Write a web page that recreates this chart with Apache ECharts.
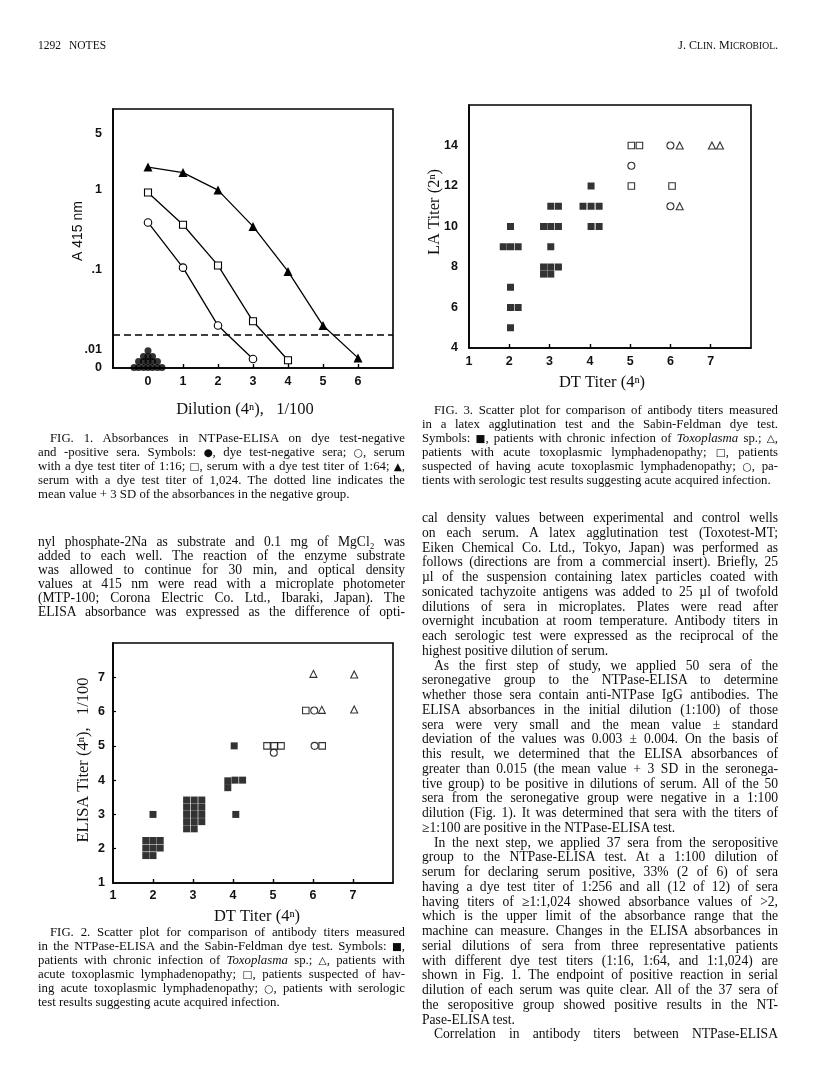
<!DOCTYPE html>
<html>
<head>
<meta charset="utf-8">
<script src="https://cdn.jsdelivr.net/npm/echarts@6/dist/echarts.min.js"></script>
<style>
html,body{margin:0;padding:0;background:#fff;}
#page{position:relative;width:816px;height:1087px;overflow:hidden;background:#fff;}
#chart{position:absolute;left:0;top:0;width:816px;height:1087px;}
.ln{position:absolute;white-space:nowrap;font-family:"Liberation Serif","Times New Roman",serif;color:#0d0d0d;}
.sym{font-family:"DejaVu Sans",sans-serif;font-size:0.82em;}
</style>
</head>
<body>
<div id="page"><div id="chart"></div></div>
<script>
// ---------------- FIG. 1 data (absorbance at 415 nm vs dilution 4^n) ----------------
const fig1Dilution = [0, 1, 2, 3, 4, 5, 6];
const fig1Titer1024 = [1.92, 1.64, 0.99, 0.348, 0.095, 0.020, 0.0055];   // filled triangles
const fig1Titer64   = [0.925, 0.365, 0.113, 0.0226, 0.0042];              // open squares
const fig1Titer16   = [0.39, 0.106, 0.020, 0.0049];                       // open circles
const fig1NegativeX = [-0.4, -0.27, -0.13, 0, 0.13, 0.27, 0.4, -0.27, -0.13, 0, 0.13, 0.27, -0.13, 0, 0.13, 0];
const fig1NegativeA = [0.0003, 0.0003, 0.0003, 0.0003, 0.0003, 0.0003, 0.0003, 0.0036, 0.0036, 0.0036, 0.0036, 0.0036, 0.0063, 0.0063, 0.0063, 0.0094];
const fig1Cutoff = 0.015;
const fig1YTickValues = [0, 0.01, 0.1, 1, 5];
const fig1YTickLabels = ['0', '.01', '.1', '1', '5'];
const fig1XTickValues = [0, 1, 2, 3, 4, 5, 6];

// ---------------- FIG. 3 data (LA titer 2^n vs DT titer 4^n) ----------------
const fig3ChronicX = [2.03, 1.85, 2.03, 2.22, 2.03, 2.03, 2.22, 2.03, 3.03, 3.22, 2.85, 3.03, 3.22, 3.03, 2.85, 3.03, 3.22, 2.85, 3.03, 4.03, 3.83, 4.03, 4.23, 4.03, 4.23];
const fig3ChronicY = [10, 9, 9, 9, 7, 6, 6, 5, 11, 11, 10, 10, 10, 9, 8, 8, 8, 7.65, 7.65, 12, 11, 11, 11, 10, 10];
const fig3SuspectedX = [5.03, 5.23, 5.03, 6.04];
const fig3SuspectedY = [14, 14, 12, 12];
const fig3SerologicX = [5.03, 6.0, 6.0];
const fig3SerologicY = [13, 14, 11];
const fig3AcuteX = [6.23, 6.23, 7.03, 7.23];
const fig3AcuteY = [14, 11, 14, 14];
const fig3XTickValues = [1, 2, 3, 4, 5, 6, 7];
const fig3YTickValues = [4, 6, 8, 10, 12, 14];

// ---------------- FIG. 2 data (ELISA titer 4^n vs DT titer 4^n) ----------------
const fig2ChronicX = [2.0, 1.82, 2.0, 2.18, 1.82, 2.0, 2.18, 1.82, 2.0,
  2.84, 3.03, 3.22, 2.84, 3.03, 3.22, 2.84, 3.03, 3.22, 2.84, 3.03, 3.22, 2.84, 3.03,
  4.03, 3.87, 3.87, 4.05, 4.24, 4.07];
const fig2ChronicY = [3.0, 2.24, 2.24, 2.24, 2.02, 2.02, 2.02, 1.8, 1.8,
  3.42, 3.42, 3.42, 3.21, 3.21, 3.21, 3.0, 3.0, 3.0, 2.79, 2.79, 2.79, 2.58, 2.58,
  5.0, 3.98, 3.78, 4.0, 4.0, 3.0];
const fig2SuspectedX = [4.85, 5.03, 5.2, 5.82, 6.23];
const fig2SuspectedY = [5.0, 5.0, 5.0, 6.03, 5.0];
const fig2SerologicX = [5.02, 6.03, 6.04];
const fig2SerologicY = [4.8, 6.03, 5.0];
const fig2AcuteX = [6.22, 6.01, 7.03, 7.03];
const fig2AcuteY = [6.05, 7.1, 7.08, 6.06];
const fig2XTickValues = [1, 2, 3, 4, 5, 6, 7];
const fig2YTickValues = [1, 2, 3, 4, 5, 6, 7];

// ---------------- page text ----------------
const fig1CaptionLines = [
  '^FIG. 1. Absorbances in NTPase-ELISA on dye test-negative',
  'and -positive sera. Symbols: <span class="sym">●</span>, dye test-negative sera; <span class="sym">○</span>, serum',
  'with a dye test titer of 1:16; <span class="sym">□</span>, serum with a dye test titer of 1:64; <span class="sym">▲</span>,',
  'serum with a dye test titer of 1,024. The dotted line indicates the',
  'mean value + 3 SD of the absorbances in the negative group.$'
];
const leftParagraphLines = [
  'nyl phosphate-2Na as substrate and 0.1 mg of MgCl₂ was',
  'added to each well. The reaction of the enzyme substrate',
  'was allowed to continue for 30 min, and optical density',
  'values at 415 nm were read with a microplate photometer',
  '(MTP-100; Corona Electric Co. Ltd., Ibaraki, Japan). The',
  'ELISA absorbance was expressed as the difference of opti-'
];
const fig2CaptionLines = [
  '^FIG. 2. Scatter plot for comparison of antibody titers measured',
  'in the NTPase-ELISA and the Sabin-Feldman dye test. Symbols: <span class="sym">■</span>,',
  'patients with chronic infection of <i>Toxoplasma</i> sp.; <span class="sym">△</span>, patients with',
  'acute toxoplasmic lymphadenopathy; <span class="sym">□</span>, patients suspected of hav-',
  'ing acute toxoplasmic lymphadenopathy; <span class="sym">○</span>, patients with serologic',
  'test results suggesting acute acquired infection.$'
];
const fig3CaptionLines = [
  '^FIG. 3. Scatter plot for comparison of antibody titers measured',
  'in a latex agglutination test and the Sabin-Feldman dye test.',
  'Symbols: <span class="sym">■</span>, patients with chronic infection of <i>Toxoplasma</i> sp.; <span class="sym">△</span>,',
  'patients with acute toxoplasmic lymphadenopathy; <span class="sym">□</span>, patients',
  'suspected of having acute toxoplasmic lymphadenopathy; <span class="sym">○</span>, pa-',
  'tients with serologic test results suggesting acute acquired infection.$'
];
const rightParagraphLines = [
  'cal density values between experimental and control wells',
  'on each serum. A latex agglutination test (Toxotest-MT;',
  'Eiken Chemical Co. Ltd., Tokyo, Japan) was performed as',
  'follows (directions are from a commercial insert). Briefly, 25',
  'µl of the suspension containing latex particles coated with',
  'sonicated tachyzoite antigens was added to 25 µl of twofold',
  'dilutions of sera in microplates. Plates were read after',
  'overnight incubation at room temperature. Antibody titers in',
  'each serologic test were expressed as the reciprocal of the',
  'highest positive dilution of serum.$',
  '^As the first step of study, we applied 50 sera of the',
  'seronegative group to the NTPase-ELISA to determine',
  'whether those sera contain anti-NTPase IgG antibodies. The',
  'ELISA absorbances in the initial dilution (1:100) of those',
  'sera were very small and the mean value ± standard',
  'deviation of the values was 0.003 ± 0.004. On the basis of',
  'this result, we determined that the ELISA absorbances of',
  'greater than 0.015 (the mean value + 3 SD in the seronega-',
  'tive group) to be positive in dilutions of serum. All of the 50',
  'sera from the seronegative group were negative in a 1:100',
  'dilution (Fig. 1). It was determined that sera with the titers of',
  '≥1:100 are positive in the NTPase-ELISA test.$',
  '^In the next step, we applied 37 sera from the seropositive',
  'group to the NTPase-ELISA test. At a 1:100 dilution of',
  'serum for declaring serum positive, 33% (2 of 6) of sera',
  'having a dye test titer of 1:256 and all (12 of 12) of sera',
  'having titers of ≥1:1,024 showed absorbance values of &gt;2,',
  'which is the upper limit of the absorbance range that the',
  'machine can measure. Changes in the ELISA absorbances in',
  'serial dilutions of sera from three representative patients',
  'with different dye test titers (1:16, 1:64, and 1:1,024) are',
  'shown in Fig. 1. The endpoint of positive reaction in serial',
  'dilution of each serum was quite clear. All of the 37 sera of',
  'the seropositive group showed positive results in the NT-',
  'Pase-ELISA test.$',
  '^Correlation in antibody titers between NTPase-ELISA'
];

// ---------------- text layout ----------------
const page = document.getElementById('page');
function placeBlock(lines, left, firstCenter, lh, width, size) {
  lines.forEach((raw, i) => {
    const indent = raw.startsWith('^');
    const last = raw.endsWith('$');
    const html = raw.replace(/^\^/, '').replace(/\$$/, '');
    const ind = indent ? 12 : 0;
    const d = document.createElement('div');
    d.className = 'ln';
    d.style.left = (left + ind) + 'px';
    d.style.top = (firstCenter + i * lh - 9) + 'px';
    d.style.fontSize = size + 'px';
    d.style.lineHeight = '18px';
    d.innerHTML = html;
    page.appendChild(d);
    const target = width - ind;
    const w = d.getBoundingClientRect().width;
    const plain = html.replace(/<[^>]+>/g, '');
    const n = (plain.match(/ /g) || []).length;
    if (!last && n > 0) {
      let ws = (target - w) / n;
      if (ws >= -1.2) { d.style.wordSpacing = ws + 'px'; }
      else {
        d.style.wordSpacing = '-1.2px';
        const w2 = d.getBoundingClientRect().width;
        d.style.transformOrigin = '0 0';
        d.style.transform = 'scaleX(' + (target / w2) + ')';
      }
    } else if (w > target) {
      d.style.transformOrigin = '0 0';
      d.style.transform = 'scaleX(' + (target / w) + ')';
    }
  });
}
function placeText(html, left, center, size, align) {
  const d = document.createElement('div');
  d.className = 'ln';
  d.style.top = (center - 9) + 'px';
  d.style.lineHeight = '18px';
  d.style.fontSize = size + 'px';
  d.innerHTML = html;
  page.appendChild(d);
  if (align === 'right') { d.style.left = (left - d.getBoundingClientRect().width) + 'px'; }
  else d.style.left = left + 'px';
}
placeText('1292', 38, 45, 11.5);
placeText('NOTES', 69, 45, 11.5);
placeText('J. C<span style="font-size:0.8em">LIN</span>. M<span style="font-size:0.8em">ICROBIOL</span>.', 778, 45, 12, 'right');

placeBlock(fig1CaptionLines, 38, 438, 14, 367, 12.8);
placeBlock(leftParagraphLines, 38, 542, 14, 367, 13.6);
placeBlock(fig2CaptionLines, 38, 932, 14, 367, 12.8);
placeBlock(fig3CaptionLines, 422, 410, 14, 356, 12.8);
placeBlock(rightParagraphLines, 422, 518, 14.75, 356, 13.6);

// ---------------- chart ----------------
const Y_BREAK = 0.01, BREAK_SPAN = 0.23;
function fig1Scale(a) { return a >= Y_BREAK ? Math.log10(a) : -2 - BREAK_SPAN * (1 - a / Y_BREAK); }
function fig1Label(v) {
  for (let i = 0; i < fig1YTickValues.length; i++) {
    if (Math.abs(fig1Scale(fig1YTickValues[i]) - v) < 1e-6) return fig1YTickLabels[i];
  }
  return '';
}
const pairs = (xs, ys) => xs.map((x, i) => [x, ys[i]]);

const tickFont = { color: '#111', fontFamily: '"Liberation Sans Narrow","Liberation Sans",Arial,sans-serif', fontWeight: 'bold', fontSize: 12.5 };
const axisLine = { show: true, onZero: false, lineStyle: { color: '#000', width: 1.6 } };
const serif = '"Liberation Serif","Times New Roman",serif';

function xAxisDef(gridIndex, min, max, labelVals, tickVals, margin) {
  return {
    gridIndex, type: 'value', min, max,
    axisLine, splitLine: { show: false },
    axisTick: { show: true, inside: true, length: 4, customValues: tickVals, lineStyle: { color: '#000', width: 1.4 } },
    axisLabel: Object.assign({ customValues: labelVals, margin, formatter: v => String(v) }, tickFont)
  };
}
function yAxisDef(gridIndex, min, max, labelVals, tickVals, margin, formatter) {
  return {
    gridIndex, type: 'value', min, max,
    axisLine, splitLine: { show: false },
    axisTick: tickVals ? { show: true, inside: true, length: 3, customValues: tickVals, lineStyle: { color: '#000', width: 1.2 } } : { show: false },
    axisLabel: Object.assign({ customValues: labelVals, margin, formatter: formatter || (v => String(v)) }, tickFont)
  };
}

const openStyle = { color: '#fff', borderColor: '#000', borderWidth: 1.1 };
const filledStyle = { color: '#000' };

const option = {
  animation: false,
  backgroundColor: 'transparent',
  grid: [
    { left: 113, top: 109, width: 280, height: 259, show: true, borderColor: '#000', borderWidth: 1.6, backgroundColor: 'transparent' },
    { left: 469, top: 105, width: 282, height: 243, show: true, borderColor: '#000', borderWidth: 1.6, backgroundColor: 'transparent' },
    { left: 113, top: 643, width: 280, height: 240, show: true, borderColor: '#000', borderWidth: 1.6, backgroundColor: 'transparent' }
  ],
  xAxis: [
    xAxisDef(0, -1, 7, fig1XTickValues, [1, 2, 3, 4, 5, 6], 7),
    xAxisDef(1, 1, 8, fig3XTickValues, [2, 3, 4, 5, 6, 7], 7),
    xAxisDef(2, 1, 8, fig2XTickValues, [2, 3, 4, 5, 6, 7], 6)
  ],
  yAxis: [
    yAxisDef(0, fig1Scale(0), 1.01, fig1YTickValues.map(fig1Scale), null, 11, fig1Label),
    yAxisDef(1, 4, 16, fig3YTickValues, null, 11),
    yAxisDef(2, 1, 8, fig2YTickValues, [2, 3, 4, 5, 6, 7], 8)
  ],
  graphic: [
    { type: 'text', x: 78, y: 231, rotation: Math.PI / 2, style: { text: 'A 415 nm', font: '14px "Liberation Sans", Arial, sans-serif', fill: '#111', align: 'center', verticalAlign: 'middle' } },
    { type: 'text', x: 245, y: 410, style: { text: 'Dilution (4ⁿ),   1/100', font: '16.5px ' + serif, fill: '#111', align: 'center', verticalAlign: 'middle' } },
    { type: 'text', x: 435, y: 212, rotation: Math.PI / 2, style: { text: 'LA Titer (2ⁿ)', font: '16.5px ' + serif, fill: '#111', align: 'center', verticalAlign: 'middle' } },
    { type: 'text', x: 602, y: 383, style: { text: 'DT Titer (4ⁿ)', font: '16.5px ' + serif, fill: '#111', align: 'center', verticalAlign: 'middle' } },
    { type: 'text', x: 84, y: 760, rotation: Math.PI / 2, style: { text: 'ELISA Titer (4ⁿ),   1/100', font: '16.5px ' + serif, fill: '#111', align: 'center', verticalAlign: 'middle' } },
    { type: 'text', x: 257, y: 917, style: { text: 'DT Titer (4ⁿ)', font: '16.5px ' + serif, fill: '#111', align: 'center', verticalAlign: 'middle' } }
  ],
  series: [
    // Fig 1
    { type: 'line', xAxisIndex: 0, yAxisIndex: 0, data: fig1Dilution.slice(0, fig1Titer1024.length).map((x, i) => [x, fig1Scale(fig1Titer1024[i])]),
      symbol: 'triangle', symbolSize: 9, itemStyle: filledStyle, lineStyle: { color: '#000', width: 1.3 }, z: 3,
      markLine: { silent: true, symbol: 'none', label: { show: false }, lineStyle: { color: '#000', width: 1.6, type: [7, 4] }, data: [{ yAxis: fig1Scale(fig1Cutoff) }] } },
    { type: 'line', xAxisIndex: 0, yAxisIndex: 0, data: fig1Dilution.slice(0, fig1Titer64.length).map((x, i) => [x, fig1Scale(fig1Titer64[i])]),
      symbol: 'rect', symbolSize: 7, itemStyle: openStyle, lineStyle: { color: '#000', width: 1.3 }, z: 3 },
    { type: 'line', xAxisIndex: 0, yAxisIndex: 0, data: fig1Dilution.slice(0, fig1Titer16.length).map((x, i) => [x, fig1Scale(fig1Titer16[i])]),
      symbol: 'circle', symbolSize: 7.5, itemStyle: openStyle, lineStyle: { color: '#000', width: 1.3 }, z: 3 },
    { type: 'scatter', xAxisIndex: 0, yAxisIndex: 0, data: fig1NegativeX.map((x, i) => [x, fig1Scale(fig1NegativeA[i])]),
      symbol: 'circle', symbolSize: 7, itemStyle: filledStyle, z: 4 },
    // Fig 3
    { type: 'scatter', xAxisIndex: 1, yAxisIndex: 1, data: pairs(fig3ChronicX, fig3ChronicY), symbol: 'rect', symbolSize: 7, itemStyle: filledStyle },
    { type: 'scatter', xAxisIndex: 1, yAxisIndex: 1, data: pairs(fig3SuspectedX, fig3SuspectedY), symbol: 'rect', symbolSize: 6.5, itemStyle: openStyle },
    { type: 'scatter', xAxisIndex: 1, yAxisIndex: 1, data: pairs(fig3SerologicX, fig3SerologicY), symbol: 'circle', symbolSize: 7, itemStyle: openStyle },
    { type: 'scatter', xAxisIndex: 1, yAxisIndex: 1, data: pairs(fig3AcuteX, fig3AcuteY), symbol: 'triangle', symbolSize: 7, itemStyle: openStyle },
    // Fig 2
    { type: 'scatter', xAxisIndex: 2, yAxisIndex: 2, data: pairs(fig2ChronicX, fig2ChronicY), symbol: 'rect', symbolSize: 7, itemStyle: filledStyle },
    { type: 'scatter', xAxisIndex: 2, yAxisIndex: 2, data: pairs(fig2SuspectedX, fig2SuspectedY), symbol: 'rect', symbolSize: 6.5, itemStyle: openStyle },
    { type: 'scatter', xAxisIndex: 2, yAxisIndex: 2, data: pairs(fig2SerologicX, fig2SerologicY), symbol: 'circle', symbolSize: 7, itemStyle: openStyle },
    { type: 'scatter', xAxisIndex: 2, yAxisIndex: 2, data: pairs(fig2AcuteX, fig2AcuteY), symbol: 'triangle', symbolSize: 7, itemStyle: openStyle }
  ]
};
const chart = echarts.init(document.getElementById('chart'), null, { renderer: 'canvas' });
chart.setOption(option);
</script>
</body>
</html>
